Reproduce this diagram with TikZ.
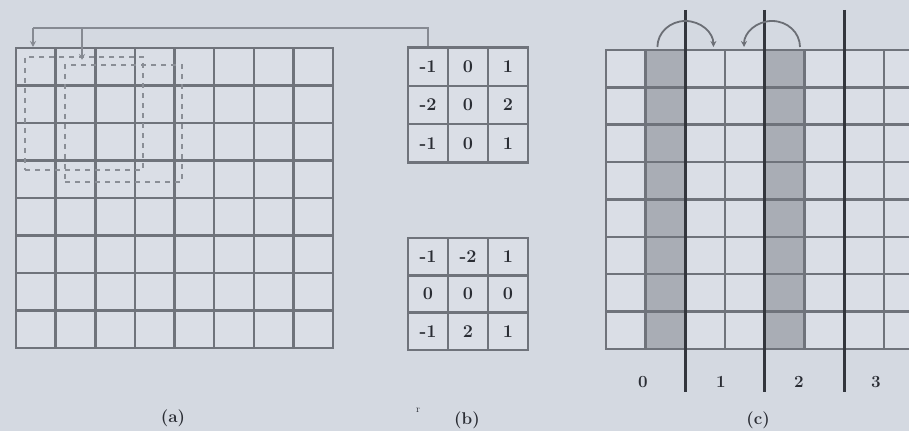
\documentclass[tikz,border=0pt]{standalone}
\usepackage{fontspec}
\setmainfont{Latin Modern Roman}
\usetikzlibrary{arrows.meta}
\definecolor{bg}{HTML}{D4D9E1}
\definecolor{cellc}{HTML}{DADEE6}
\definecolor{gridc}{HTML}{6F737B}
\definecolor{dashc}{HTML}{8A8E96}
\definecolor{connc}{HTML}{868A92}
\definecolor{shadec}{HTML}{A9ADB5}
\definecolor{divc}{HTML}{33363D}
\definecolor{textc}{HTML}{2A2D34}
\tikzset{
  gridline/.style={draw=gridc, line width=2.5pt},
  gridbox/.style={draw=gridc, fill=cellc, line width=2.5pt, inner sep=0pt},
  window/.style={draw=dashc, line width=2pt, dash pattern=on 5pt off 5pt, inner sep=0pt},
  conn/.style={draw=connc, line width=2.5pt},
  tipconn/.style={conn, -{Stealth[length=6pt,width=6pt]}},
  kcell/.style={draw=gridc, fill=cellc, line width=2.5pt, minimum width=40pt, inner sep=0pt,
    text=textc, font=\fontsize{18}{20}\selectfont\bfseries},
  shade/.style={fill=shadec},
  divider/.style={draw=divc, line width=3pt},
  arcarrow/.style={draw=connc!80!black, line width=1.8pt, -{Stealth[length=6pt,width=6pt]}},
  lab/.style={text=textc, font=\fontsize{17}{19}\selectfont\bfseries, inner sep=0pt},
}
\begin{document}
\begin{tikzpicture}[x=1pt,y=1pt]
\fill[bg] (0,0) rectangle (909,431);
\useasboundingbox (0,0) rectangle (909,431);

% ---------- (a) image grid ----------
\node[gridbox, minimum width=317pt, minimum height=300pt] (gridA) at (174.5,233) {};
\foreach \i in {1,...,7} {
  \draw[gridline] (16+\i*39.625,83) -- (16+\i*39.625,383);
  \draw[gridline] (16,83+\i*37.5) -- (333,83+\i*37.5);
}
\node[window, minimum width=118pt, minimum height=113pt] (win1) at (84,317.5) {};
\node[window, minimum width=117pt, minimum height=117pt] (win2) at (123.5,307.5) {};
\node[lab] (la) at (173,13) {(a)};

% ---------- (b) kernels ----------
\foreach \r/\a/\b/\c in {1/-1/0/1, 2/-2/0/2, 3/-1/0/1} {
  \node[kcell, minimum height=38.33pt] (k1-\r-1) at (428, 402.67-38.33*\r) {\a};
  \node[kcell, minimum height=38.33pt] (k1-\r-2) at (468, 402.67-38.33*\r) {\b};
  \node[kcell, minimum height=38.33pt] (k1-\r-3) at (508, 402.67-38.33*\r) {\c};
}
\foreach \r/\a/\b/\c in {1/-1/-2/1, 2/0/0/0, 3/-1/2/1} {
  \node[kcell, minimum height=37.33pt] (k2-\r-1) at (428, 211.67-37.33*\r) {\a};
  \node[kcell, minimum height=37.33pt] (k2-\r-2) at (468, 211.67-37.33*\r) {\b};
  \node[kcell, minimum height=37.33pt] (k2-\r-3) at (508, 211.67-37.33*\r) {\c};
}
\node[lab] (lb) at (467,11) {(b)};
\node[text=textc, font=\fontsize{10}{11}\selectfont, inner sep=0pt] (mark) at (418,21) {r};

% connector from kernel to windows
\coordinate (c1) at (33,403);
\coordinate (c2) at (82,403);
\coordinate (t1) at (33,384);
\coordinate (t2) at (82,371);
\draw[conn] (k1-1-1.north) |- (c2) -- (c1);
\draw[tipconn] (c1) -- (t1);
\draw[tipconn] (c2) -- (t2);

% ---------- (c) grid with strips ----------
\node[gridbox, minimum width=317.6pt, minimum height=299pt] (gridC) at (764.8,231.5) {};
\fill[shade] (645.7,82) rectangle (685.4,381);
\fill[shade] (764.8,82) rectangle (804.5,381);
\foreach \i in {1,...,7} {
  \draw[gridline] (606+\i*39.7,82) -- (606+\i*39.7,381);
  \draw[gridline] (606,82+\i*37.375) -- (923.6,82+\i*37.375);
}
\draw[gridline] (606,82) rectangle (923.6,381);
\coordinate (d1t) at (685.4,421); \coordinate (d1b) at (685.4,39);
\coordinate (d2t) at (764.8,421); \coordinate (d2b) at (764.8,39);
\coordinate (d3t) at (844.1,421); \coordinate (d3b) at (844.1,39);
\draw[divider] (d1t) -- (d1b);
\draw[divider] (d2t) -- (d2b);
\draw[divider] (d3t) -- (d3b);
\coordinate (a1s) at (657.4,384);
\coordinate (a2s) at (800,384);
\draw[arcarrow] (a1s) arc[start angle=180, end angle=0, x radius=28, y radius=26];
\draw[arcarrow] (a2s) arc[start angle=0, end angle=180, x radius=28, y radius=26];
\node[lab] (l0) at (643,49) {0};
\node[lab] (l1) at (721,49) {1};
\node[lab] (l2) at (799,49) {2};
\node[lab] (l3) at (876,49) {3};
\node[lab] (lc) at (758,11) {(c)};
\end{tikzpicture}
\end{document}
